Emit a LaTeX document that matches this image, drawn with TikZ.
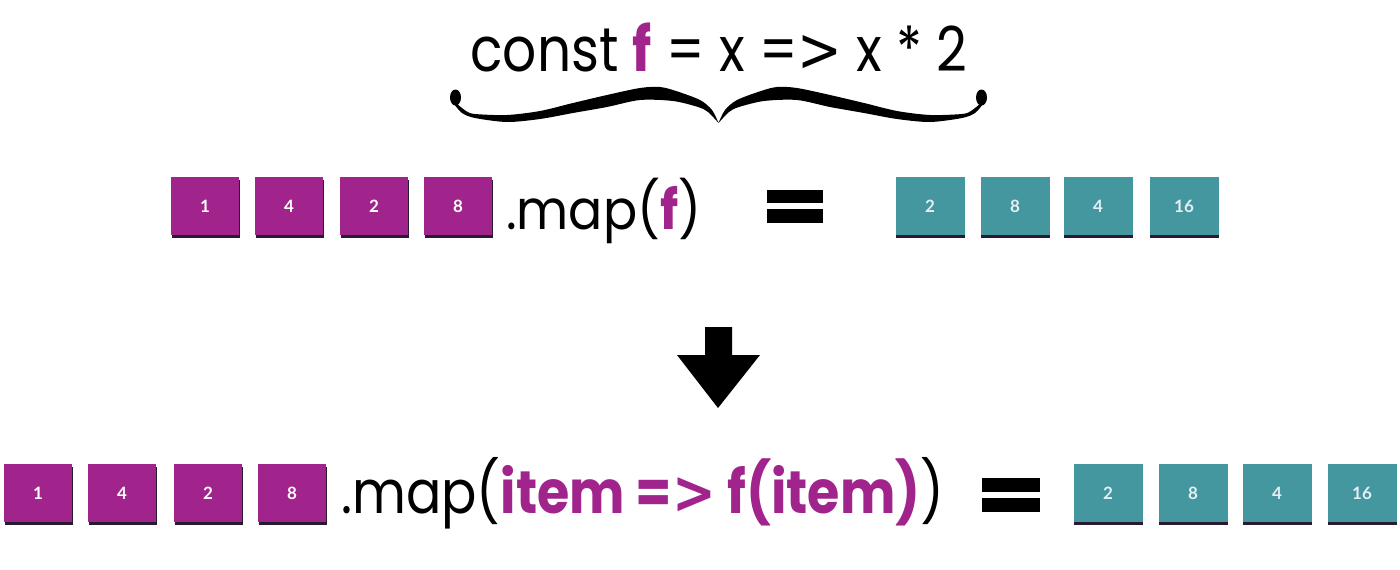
\documentclass[tikz,border=0pt]{standalone}
\usepackage{fontspec}
\setmainfont{Poppins}
\newfontfamily\numfont{Lato}
\newfontfamily\gtfont{DejaVu Sans}
\usetikzlibrary{shadows}
\definecolor{fpurple}{RGB}{160,36,140}
\definecolor{fteal}{RGB}{68,151,159}
\definecolor{fshadow}{RGB}{40,26,48}
\definecolor{tealtext}{RGB}{230,238,246}
\newcommand{\gtsym}{{\gtfont >}}
\begin{document}
\begin{tikzpicture}[x=1pt,y=-1pt,
  cell/.style={minimum width=68pt, minimum height=58pt, inner sep=0pt,
    font=\numfont\bfseries\fontsize{17}{17}\selectfont,
    drop shadow={shadow xshift=0.5pt, shadow yshift=-3pt, opacity=1, fill=fshadow}},
  pcell/.style={cell, fill=fpurple, text=white},
  tcell/.style={cell, fill=fteal, text=tealtext, minimum width=69pt},
  codetxt/.style={inner sep=0pt}]
\useasboundingbox (0,0) rectangle (1400,570);
\fill[white] (0,0) rectangle (1400,570);

% top code line
\node[codetxt, anchor=base, font=\fontsize{62}{70}\selectfont] (code) at (719,71)
  {\scalebox{0.862}[1]{const {\bfseries\color{fpurple}f} = x =\gtsym{} x * 2}};

% brace
\fill[black]
  plot[smooth] coordinates {(456,103) (466,111) (475,114) (507,115) (540,111) (573,103) (607,95) (640,88) (660,87) (676,91) (700,100) (712,110) (718.5,123)}
  -- plot[smooth] coordinates {(718.5,123) (725,110) (737,100) (761,91) (777,87) (797,88) (830,95) (864,103) (897,111) (930,115) (962,114) (971,111) (981,103)}
  -- plot[smooth] coordinates {(983,104) (975,113) (962,118) (930,122) (897,119) (864,113) (830,107) (797,100) (764,101) (739,107) (729,112) (718.5,123)}
  -- plot[smooth] coordinates {(718.5,123) (708,112) (698,107) (673,101) (640,100) (607,107) (573,113) (540,119) (507,122) (475,118) (462,113) (454,104)}
  -- cycle;
\fill[black] (455.5,97.5) ellipse[x radius=5.5pt, y radius=8pt];
\fill[black] (981.5,97.5) ellipse[x radius=5.5pt, y radius=8pt];

% top row
\node[pcell] (a1) at (205,206) {1};
\node[pcell] (a2) at (289,206) {4};
\node[pcell] (a3) at (374,206) {2};
\node[pcell] (a4) at (458,206) {8};
\node[codetxt, anchor=base west, font=\fontsize{55}{62}\selectfont] (map1) at (506,229)
  {\scalebox{0.92}[1]{.map({\bfseries\color{fpurple}f})}};
\fill[black] (767,190) rectangle (823,203);
\fill[black] (767,209) rectangle (823,223);
\node[tcell] (b1) at (930,206) {2};
\node[tcell] (b2) at (1015,206) {8};
\node[tcell] (b3) at (1098,206) {4};
\node[tcell] (b4) at (1184,206) {16};

% down arrow
\fill[black] (705,327) -- (732,327) -- (732,355) -- (760,355) -- (718,408) -- (677,355) -- (705,355) -- cycle;

% bottom row
\node[pcell] (c1) at (38,493) {1};
\node[pcell] (c2) at (122,493) {4};
\node[pcell] (c3) at (208,493) {2};
\node[pcell] (c4) at (292,493) {8};
\node[codetxt, anchor=base west, font=\fontsize{60}{68}\selectfont] (map2) at (341,513)
  {\scalebox{0.872}[1]{.map({\bfseries\color{fpurple}item ={\gtfont\bfseries >} f(item)})}};
\fill[black] (982,478) rectangle (1040,492);
\fill[black] (982,498) rectangle (1040,512);
\node[tcell] (d1) at (1108,493) {2};
\node[tcell] (d2) at (1193,493) {8};
\node[tcell] (d3) at (1277,493) {4};
\node[tcell] (d4) at (1362,493) {16};
\end{tikzpicture}
\end{document}
